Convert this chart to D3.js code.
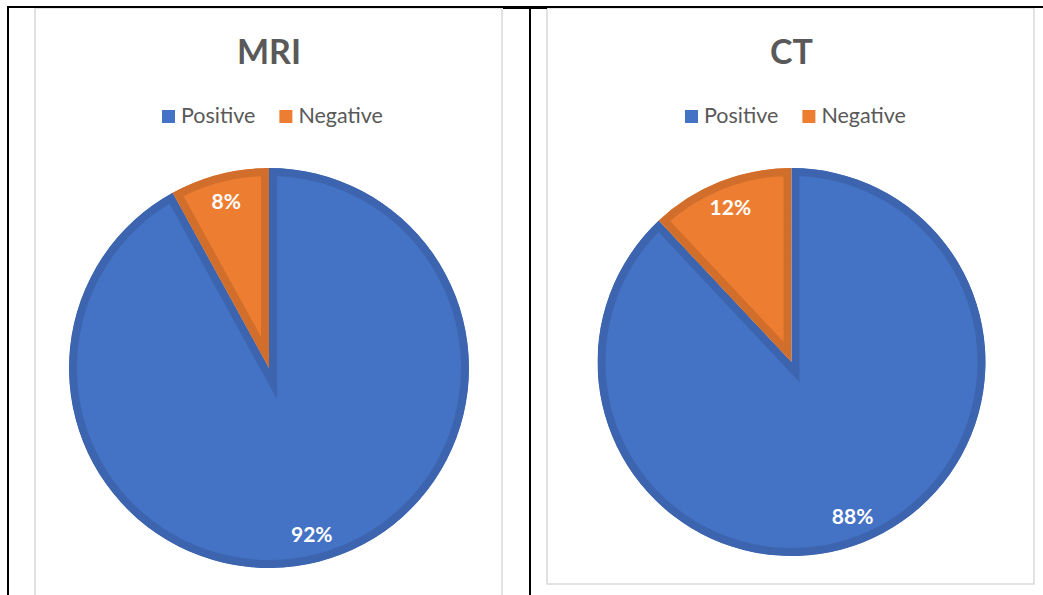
<!DOCTYPE html>
<html>
<head>
<meta charset="utf-8">
<script src="https://cdn.jsdelivr.net/npm/d3@7"></script>
<style>
  body { margin: 0; background: #fff; }
  #wrapper { width: 1043px; height: 595px; overflow: hidden; }
</style>
</head>
<body>
<div id="wrapper"></div>
<script>
// данные диаграмм
const categories = ["Positive", "Negative"];
const chartTitles = ["MRI", "CT"];
const mriValues = [92, 8];
const ctValues = [88, 12];

const fillColors = ["#4472C4", "#ED7D31"];
const edgeColors = ["#3D65AF", "#D26E2B"];

function buildPlot() {
    const dimension = { width: 1043, height: 595 };

    const svg = d3.select("#wrapper").append("svg")
        .attr("width", dimension.width)
        .attr("height", dimension.height);

    const defs = svg.append("defs");

    // рамки двух диаграмм
    const frames = [
        { x: 35, y: 8, w: 467, h: 620 },
        { x: 547, y: 8, w: 487, h: 576 }
    ];
    frames.forEach(f => {
        svg.append("rect")
            .attr("x", f.x).attr("y", f.y)
            .attr("width", f.w).attr("height", f.h)
            .attr("fill", "#fff")
            .attr("stroke", "#d9d9d9")
            .attr("stroke-width", 1.5);
    });

    // линии таблицы
    svg.append("line").attr("x1", 7).attr("x2", 1043).attr("y1", 7).attr("y2", 7)
        .attr("stroke", "#000").attr("stroke-width", 2);
    svg.append("line").attr("x1", 503).attr("x2", 547).attr("y1", 7.5).attr("y2", 7.5)
        .attr("stroke", "#000").attr("stroke-width", 3);
    svg.append("line").attr("x1", 8).attr("x2", 8).attr("y1", 6).attr("y2", 595)
        .attr("stroke", "#000").attr("stroke-width", 2);
    svg.append("line").attr("x1", 530).attr("x2", 530).attr("y1", 6).attr("y2", 595)
        .attr("stroke", "#000").attr("stroke-width", 2);

    const charts = [
        { title: chartTitles[0], values: mriValues, cx: 269, cy: 368, r: 200, legendX: 162 },
        { title: chartTitles[1], values: ctValues, cx: 791.5, cy: 362, r: 194, legendX: 685 }
    ];

    const pie = d3.pie().sort(null).value(d => d);

    charts.forEach((c, ci) => {
        const g = svg.append("g");

        g.append("text")
            .attr("x", c.cx)
            .attr("y", 64)
            .attr("text-anchor", "middle")
            .style("font-family", "Lato, 'Open Sans', sans-serif")
            .style("font-weight", "bold")
            .style("font-size", "34px")
            .attr("fill", "#595959")
            .text(c.title);

        // легенда
        const legend = g.append("g").attr("transform", `translate(${c.legendX},110)`);
        let lx = 0;
        categories.forEach((cat, i) => {
            legend.append("rect")
                .attr("x", lx).attr("y", 0)
                .attr("width", 13).attr("height", 13)
                .attr("fill", fillColors[i]);
            const t = legend.append("text")
                .attr("x", lx + 19)
                .attr("y", 13)
                .style("font-family", "Lato, 'Open Sans', sans-serif")
                .style("font-size", "21.5px")
                .attr("fill", "#595959")
                .text(cat);
            lx += 19 + t.node().getComputedTextLength() + 24;
        });

        const arc = d3.arc().innerRadius(0).outerRadius(c.r);
        const labelArc = d3.arc().innerRadius(c.r - 28).outerRadius(c.r - 28);
        const arcs = pie(c.values);

        const slices = g.append("g").attr("transform", `translate(${c.cx},${c.cy})`);
        arcs.forEach((a, i) => {
            const id = `clip-${ci}-${i}`;
            // clipPath в координатах самого сектора
            defs.append("clipPath").attr("id", id)
                .append("path").attr("d", arc(a));
            slices.append("path")
                .attr("d", arc(a))
                .attr("fill", fillColors[i])
                .attr("stroke", edgeColors[i])
                .attr("stroke-width", 16)
                .attr("stroke-linejoin", "miter")
                .attr("stroke-miterlimit", 10)
                .attr("clip-path", `url(#${id})`);
        });

        arcs.forEach((a, i) => {
            const [x, y] = labelArc.centroid(a);
            slices.append("text")
                .attr("x", x)
                .attr("y", y)
                .attr("dy", "0.35em")
                .attr("text-anchor", "middle")
                .style("font-family", "Lato, 'Open Sans', sans-serif")
                .style("font-weight", "bold")
                .style("font-size", "21px")
                .attr("fill", "#fff")
                .text(a.data + "%");
        });
    });
}

buildPlot();
</script>
</body>
</html>
